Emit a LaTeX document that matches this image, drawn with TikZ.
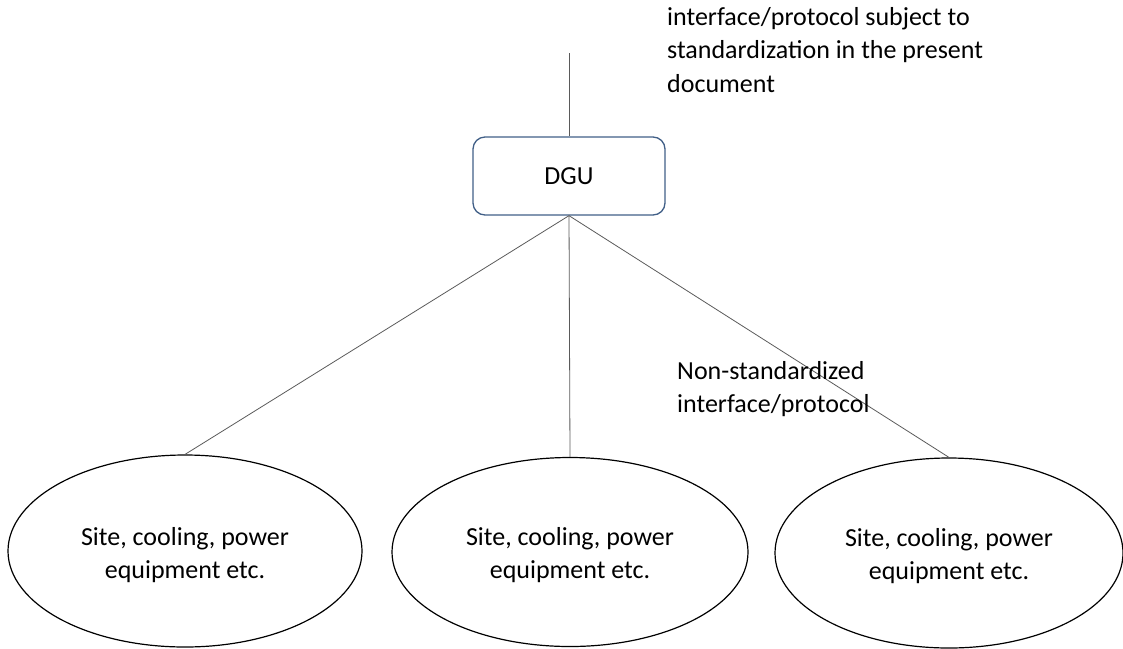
\documentclass[tikz,border=0pt]{standalone}
\usepackage{fontspec}
\setmainfont{Carlito}
\usetikzlibrary{shapes.geometric}
\definecolor{boxblue}{RGB}{65,95,135}
\definecolor{wire}{RGB}{90,90,90}
\begin{document}
\begin{tikzpicture}[x=1pt,y=-1pt,
  every node/.style={font=\fontsize{26}{33.5}\selectfont, text=black},
  unit/.style={draw=boxblue, line width=1.3pt, rounded corners=12pt,
    minimum width=192pt, minimum height=78pt, inner sep=0pt},
  equip/.style={ellipse, draw=black, line width=1.2pt, inner sep=0pt},
  equiptext/.style={align=center, inner sep=0pt},
  wirestyle/.style={draw=wire, line width=0.8pt},
  note/.style={align=left, anchor=north west, inner sep=0pt}]
  \useasboundingbox (0,0) rectangle (1123,648);

  % central unit and its upstream link
  \node[unit] (dgu) at (569,176) {DGU};
  \coordinate (up) at (569,53);
  \draw[wirestyle] (up) -- (dgu.north);

  % managed equipment
  \node[equip, minimum width=354pt, minimum height=192pt] (e1) at (185,551) {};
  \node[equip, minimum width=356pt, minimum height=189pt] (e2) at (570,552) {};
  \node[equip, minimum width=348pt, minimum height=190pt] (e3) at (949,553) {};
  \node[equiptext] (e1t) at ([yshift=-4pt]e1.center) {Site, cooling, power\\equipment etc.};
  \node[equiptext] (e2t) at ([yshift=-3pt]e2.center) {Site, cooling, power\\equipment etc.};
  \node[equiptext] (e3t) at ([yshift=-3pt]e3.center) {Site, cooling, power\\equipment etc.};

  \draw[wirestyle] (dgu.south) -- (e1.north);
  \draw[wirestyle] (dgu.south) -- (e2.north);
  \draw[wirestyle] (dgu.south) -- (e3.north);

  % annotations
  \node[note] (std) at (667,7)
    {interface/protocol subject to\\standardization in the present\\document};
  \node[note] (nonstd) at (677,361)
    {Non-standardized\\interface/protocol};
\end{tikzpicture}
\end{document}
